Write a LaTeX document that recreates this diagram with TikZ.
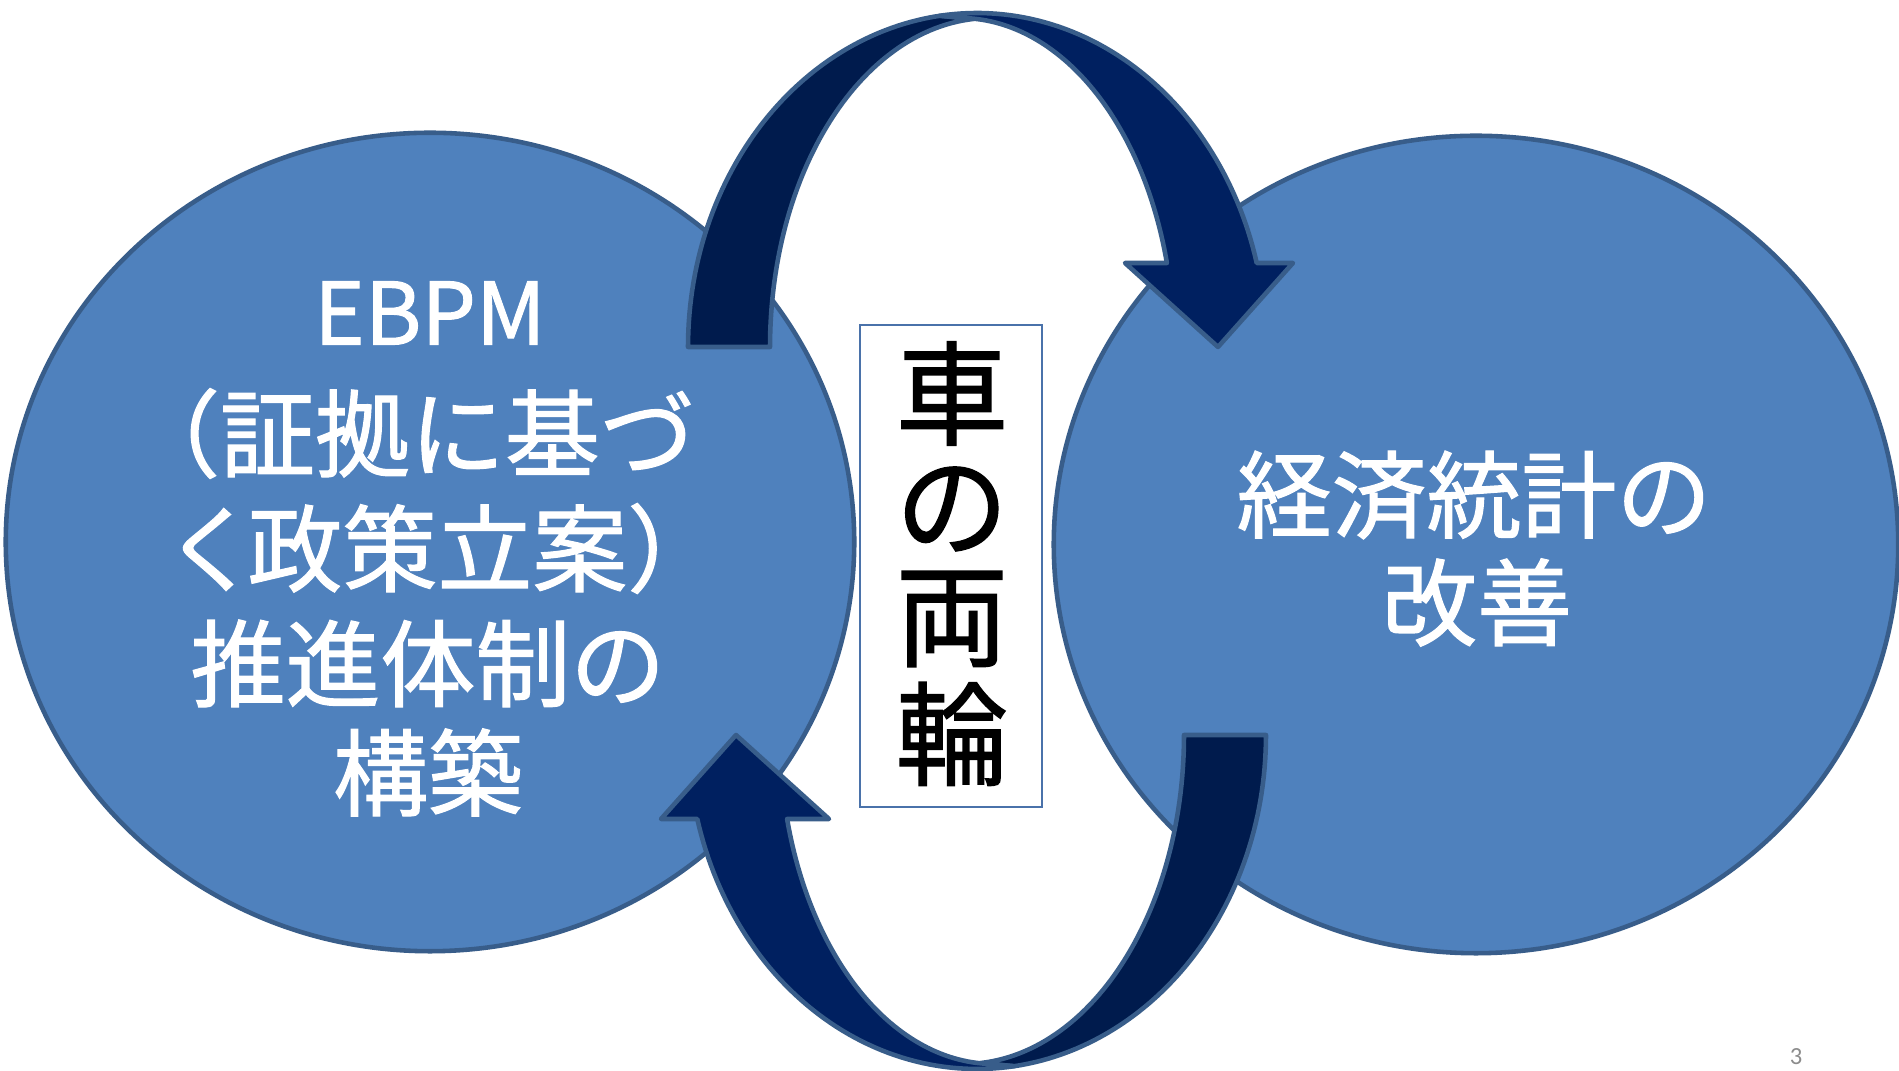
\documentclass[tikz,border=0pt]{standalone}
\usepackage{fontspec}
\setmainfont{Noto Sans CJK JP}
\newfontfamily\heavyjp[FakeBold=1.2]{Noto Sans CJK JP}
\newfontfamily\pagefont{Carlito}
\usetikzlibrary{shapes.geometric}
\definecolor{ellfill}{HTML}{4F81BD}
\definecolor{edgeblue}{HTML}{385D8A}
\definecolor{backband}{HTML}{001B4D}
\definecolor{frontband}{HTML}{002060}
\definecolor{boxedge}{HTML}{4A72AA}
\definecolor{pagegray}{HTML}{8C8C8C}
\newcommand{\CurvedArrowShape}{%
  \draw[bandback]
    plot[domain=180:97.4, samples=60, variable=\t] ({977+289*cos(\t)},{347-334*sin(\t)})
    -- (973,19)
    -- plot[domain=94.4:180, samples=60, variable=\t] ({990+220*cos(\t)},{347-329*sin(\t)})
    -- cycle;
  \draw[bandfront]
    plot[domain=97.4:14.57, samples=60, variable=\t] ({977+289*cos(\t)},{347-334*sin(\t)})
    -- (1293,263) -- (1218,347) -- (1125,263)
    -- plot[domain=14.79:86.5, samples=60, variable=\t] ({960+214*cos(\t)},{347-329*sin(\t)})
    -- cycle;
}
\begin{document}
\begin{tikzpicture}[x=0.01cm, y=-0.01cm,
  disc/.style={ellipse, draw=edgeblue, fill=ellfill, line width=1.3pt, inner sep=0pt},
  band/.style={draw=edgeblue, line width=1.3pt, line join=round},
  bandback/.style={band, fill=backband},
  bandfront/.style={band, fill=frontband},
  wtext/.style={text=white, font=\heavyjp\fontsize{27}{27}\selectfont, inner sep=0pt},
  ctext/.style={text=black, font=\heavyjp\fontsize{32}{32}\selectfont, inner sep=0pt},
  pairbox/.style={draw=boxedge, fill=white, line width=0.6pt, inner sep=0pt}]
\useasboundingbox (0,0) rectangle (1899,1071);
\fill[white] (0,0) rectangle (1899,1071);
% the two discs
\node[disc, minimum width=8.48cm, minimum height=8.18cm] (lefte) at (430,542) {};
\node[disc, minimum width=8.44cm, minimum height=8.17cm] (righte) at (1476,544.5) {};
% top curved arrow
\CurvedArrowShape
% bottom curved arrow (same shape turned half round)
\begin{scope}[rotate around={180:(977,541)}]
\CurvedArrowShape
\end{scope}
% centre box
\node[pairbox, minimum width=1.82cm, minimum height=4.82cm] (pair) at (951,566) {};
\node[ctext] (c1) at (952,393.5) {車};
\node[ctext] (c2) at (952,509) {の};
\node[ctext] (c3) at (952,619) {両};
\node[ctext] (c4) at (952,734) {輪};
% left text
\node[wtext, font=\heavyjp\fontsize{24.5}{24.5}\selectfont] (l1) at (430,313) {EBPM};
\node[wtext] (l2) at (410,433.5) {（証拠に基づ};
\node[wtext] (l3) at (443,548.5) {く\kern-0.12em 政策立案）};
\node[wtext] (l4) at (428,663.5) {推進体制の};
\node[wtext] (l5) at (428,772.5) {構築};
% right text
\node[wtext] (r1) at (1474,495) {経済統計の};
\node[wtext] (r2) at (1477,602.5) {改善};
% page number
\node[text=pagegray, font=\pagefont\fontsize{7}{7}\selectfont, inner sep=0pt] (pg) at (1796,1056.5) {3};
\end{tikzpicture}
\end{document}
